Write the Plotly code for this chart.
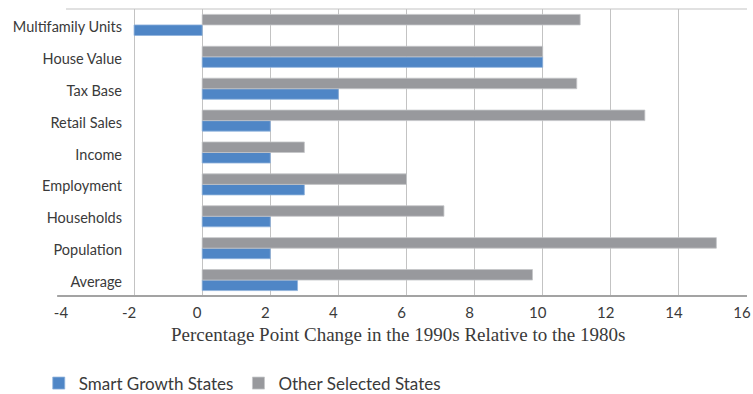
import plotly.graph_objects as go

# Indicators, listed bottom-to-top as they appear on the y axis
categories = ["Average", "Population", "Households", "Employment", "Income",
              "Retail Sales", "Tax Base", "House Value", "Multifamily Units"]

smart_growth = [2.8, 2.0, 2.0, 3.0, 2.0, 2.0, 4.0, 10.0, -2.0]
other_states = [9.7, 15.1, 7.1, 6.0, 3.0, 13.0, 11.0, 10.0, 11.1]

x_ticks = [-4, -2, 0, 2, 4, 6, 8, 10, 12, 14, 16]

BLUE = "#4f86c6"
GREY = "#98999d"
TEXT = "#3a3a3a"
SANS = "Lato, 'Open Sans', sans-serif"
SERIF = "'Liberation Serif', 'DejaVu Serif', serif"

fig = go.Figure()
fig.add_trace(go.Bar(
    y=categories, x=smart_growth, orientation="h", name="Smart Growth States",
    marker=dict(color=BLUE, line=dict(color="#8fb2dc", width=0.8)),
))
fig.add_trace(go.Bar(
    y=categories, x=other_states, orientation="h", name="Other Selected States",
    marker=dict(color=GREY, line=dict(color="#c4c5c8", width=0.8)),
))

fig.update_layout(
    template="none",
    width=753, height=394,
    margin=dict(l=66, r=6, t=9, b=98, autoexpand=False),
    paper_bgcolor="white", plot_bgcolor="white",
    barmode="group", bargap=0.34, bargroupgap=0,
    showlegend=True,
    legend=dict(
        orientation="h", x=-0.04, xanchor="left", y=-0.305, yanchor="middle",
        font=dict(family=SANS, size=17, color=TEXT),
        itemwidth=30, tracegroupgap=0, bgcolor="rgba(0,0,0,0)",
    ),
    xaxis=dict(
        range=[-4, 16], tickvals=x_ticks, ticktext=[str(v) for v in x_ticks],
        showgrid=True, gridcolor="#c3c3c3", gridwidth=1,
        zeroline=False, showline=False, ticks="", automargin=False,
        tickfont=dict(family=SANS, size=15, color=TEXT),
        ticklabelshift=-5, ticklabelstandoff=6,
    ),
    yaxis=dict(
        type="category", categoryorder="array", categoryarray=categories,
        showgrid=False, zeroline=False, showline=False, ticks="", automargin=False,
        tickfont=dict(family=SANS, size=14.5, color=TEXT),
        ticklabelstandoff=-57, ticklabelshift=2,
    ),
    shapes=[
        # plot frame: light top edge, darker baseline extending slightly left
        dict(type="line", xref="x domain", yref="y domain", x0=0, x1=1, y0=1, y1=1,
             line=dict(color="#c3c3c3", width=1.2)),
        dict(type="line", xref="x domain", yref="y domain", x0=-0.013, x1=1, y0=0, y1=0,
             line=dict(color="#a3a3a3", width=2)),
    ],
    annotations=[
        dict(text="Percentage Point Change in the 1990s Relative to the 1980s",
             xref="paper", yref="paper", x=0.487, y=-0.135,
             xanchor="center", yanchor="middle", showarrow=False,
             font=dict(family=SERIF, size=19, color=TEXT)),
    ],
)

fig.write_html("out.html")
